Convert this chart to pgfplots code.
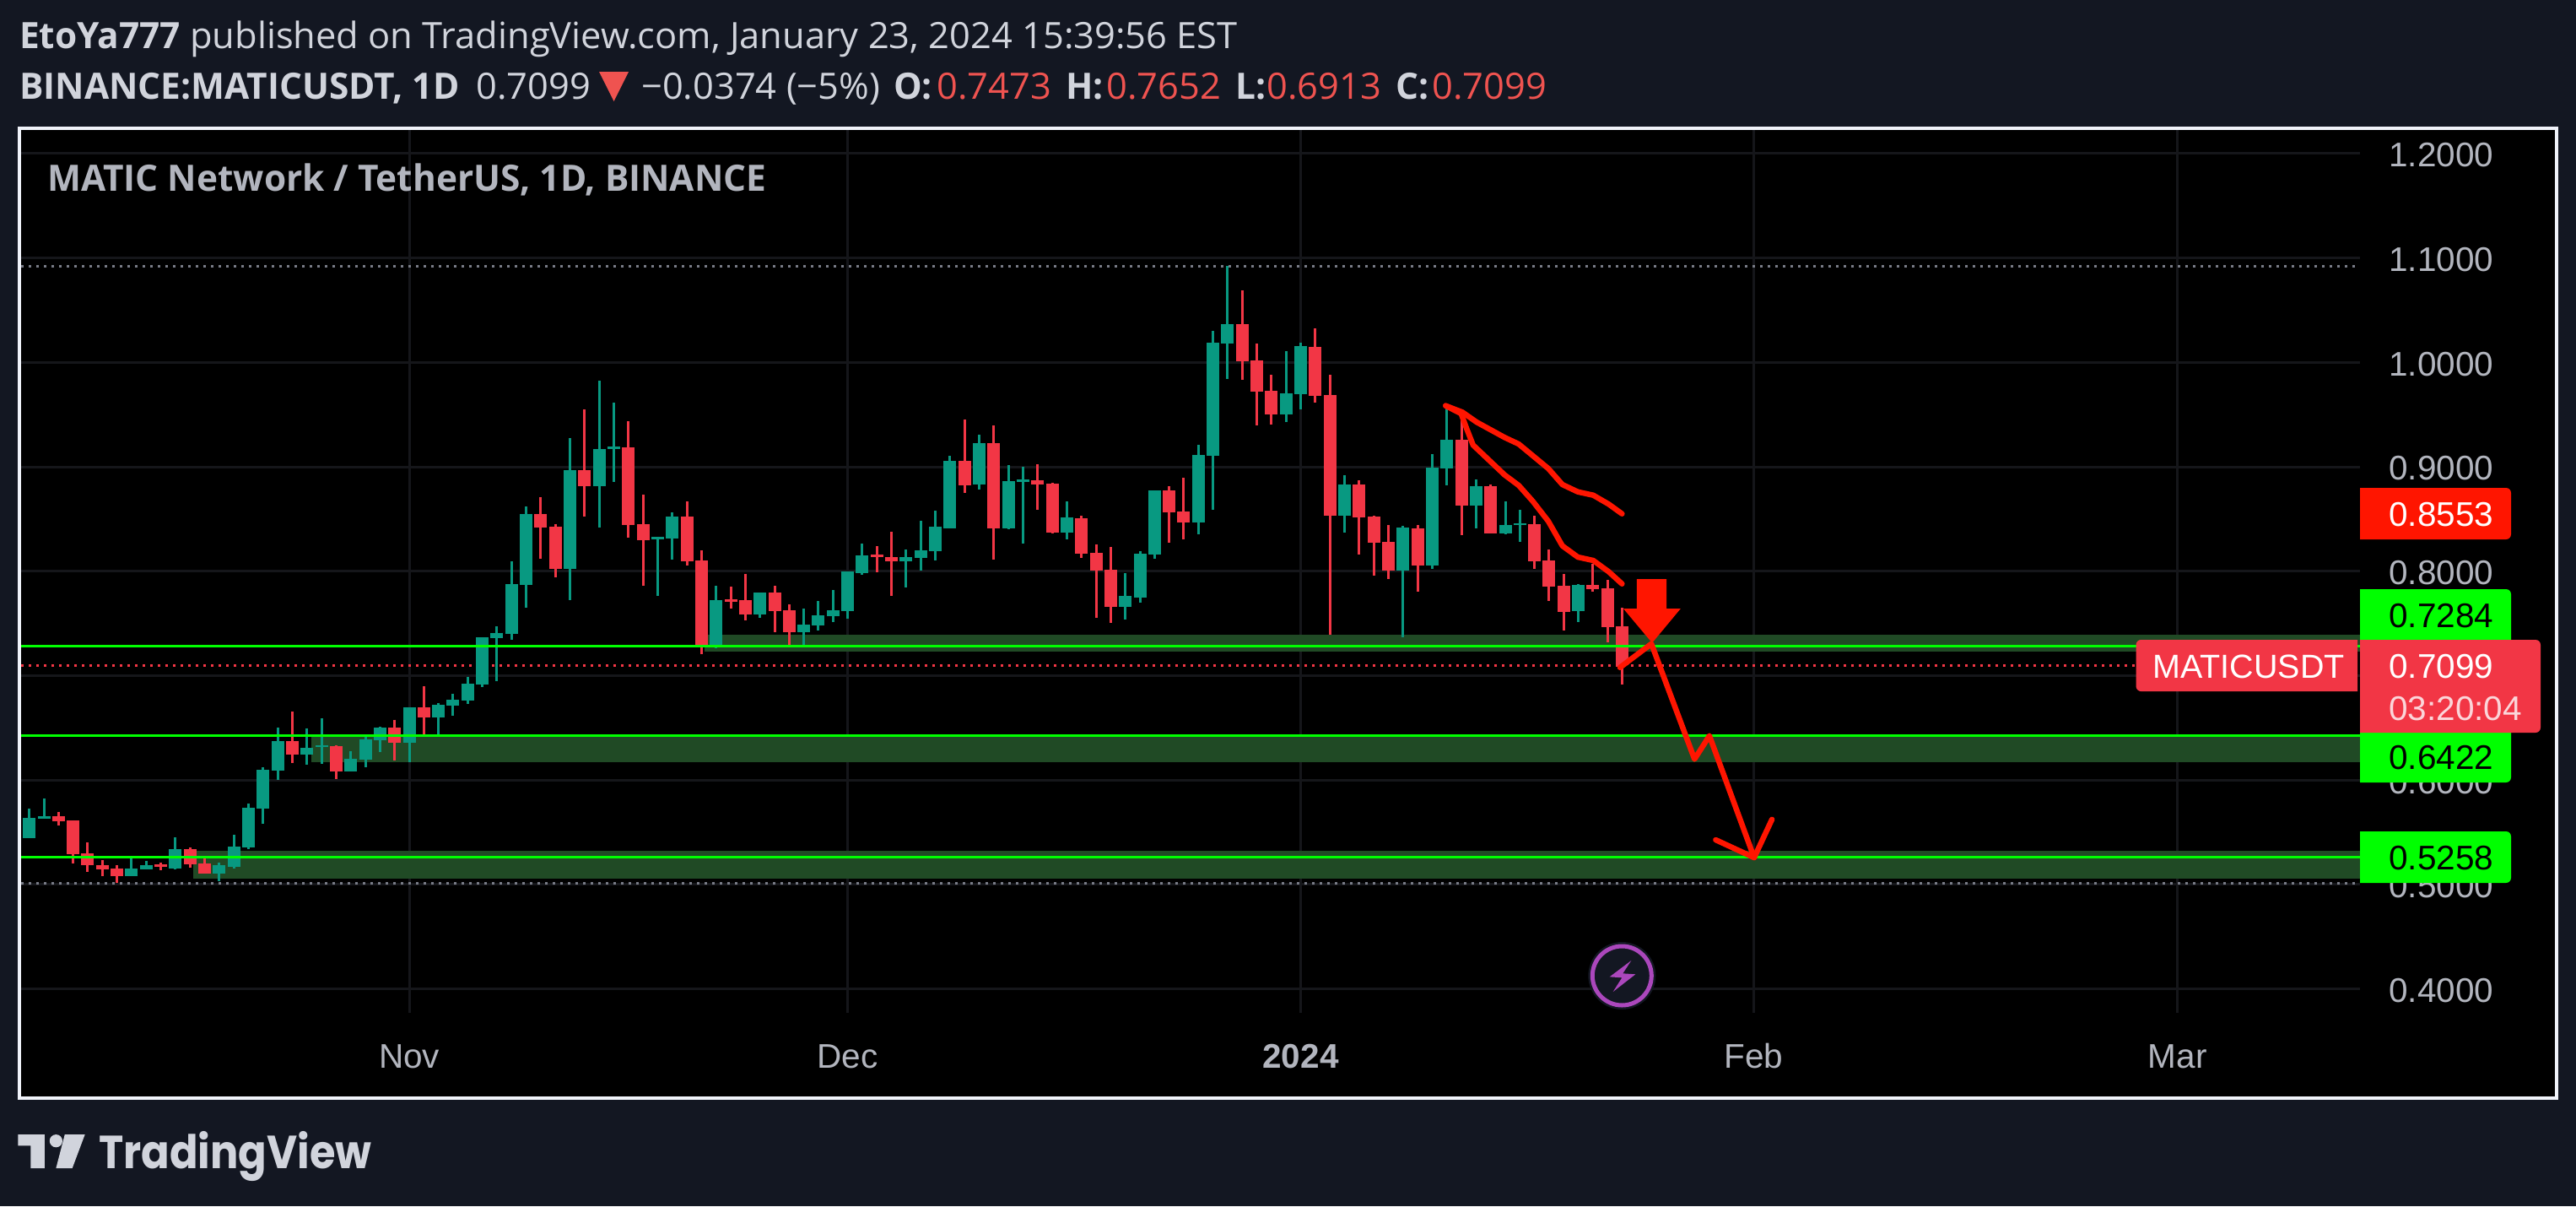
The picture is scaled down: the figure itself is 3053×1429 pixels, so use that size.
\documentclass[border=0pt]{standalone}
\usepackage{fontspec}
\setmainfont{Open Sans}[FakeStretch=1.01,BoldFeatures={FakeStretch=0.985}]
\newfontfamily\pricefont{Liberation Sans}
\newfontfamily\logofont{Poppins}[FakeStretch=0.9]
\usepackage{pgfplots}
\usepackage{pgfplotstable}
\pgfplotsset{compat=1.18}

\definecolor{bg}{HTML}{131722}
\definecolor{frame}{HTML}{F0F3FA}
\definecolor{hdr}{HTML}{D1D4DC}
\definecolor{lbl}{HTML}{B2B5BE}
\definecolor{gridc}{HTML}{15161A}
\definecolor{up}{HTML}{089981}
\definecolor{down}{HTML}{F23645}
\definecolor{hdrred}{HTML}{EF5350}
\definecolor{level}{HTML}{00FF00}
\definecolor{zone}{HTML}{204A25}
\definecolor{ink}{HTML}{FF1500}
\definecolor{dots}{HTML}{787B86}
\definecolor{bolt}{HTML}{AB47BC}
\definecolor{timer}{HTML}{FBD5D9}

% day 0 = 1 Nov 2023
\pgfplotstableread{
d o h l c
-26 .5444 .5729 .5444 .5641
-25 .5632 .5825 .5632 .5654
-19 .5080 .5251 .5076 .5155
-18 .5146 .5229 .5146 .5181
-16 .5155 .5453 .5146 .5339
-13 .5107 .5212 .5032 .5181
-12 .5172 .5479 .5155 .5365
-11 .5356 .5777 .5339 .5737
-10 .5729 .6123 .5584 .6101
-9 .6092 .6504 .6005 .6377
-7 .6246 .6495 .6149 .6311
-6 .6316 .6592 .6158 .6333
-4 .6083 .6276 .6083 .6206
-3 .6197 .6430 .6123 .6390
-2 .6381 .6513 .6272 .6504
0 .6359 .6697 .6171 .6697
2 .6600 .6740 .6430 .6723
3 .6714 .6828 .6618 .6771
4 .6762 .6990 .6732 .6924
5 .6916 .7367 .6894 .7367
6 .7362 .7472 .6946 .7411
7 .7402 .8094 .7345 .7879
8 .7871 .8620 .7652 .8549
11 .8024 .9277 .7726 .8970
13 .8817 .9824 .8418 .9171
14 .9171 .9614 .8856 .9193
17 .8304 .8330 .7765 .8330
18 .8313 .8563 .8111 .8523
21 .7270 .7861 .7264 .7723
24 .7587 .7795 .7553 .7795
27 .7417 .7642 .7270 .7489
28 .7480 .7714 .7431 .7579
29 .7570 .7821 .7512 .7628
30 .7619 .7997 .7547 .7997
31 .7982 .8265 .7965 .8153
34 .8095 .8207 .7844 .8135
35 .8127 .8482 .8006 .8199
36 .8193 .8580 .8104 .8427
37 .8409 .9105 .8409 .9056
39 .8831 .9307 .8782 .9226
41 .8409 .9015 .8401 .8862
42 .8854 .9001 .8265 .8880
45 .8369 .8669 .8306 .8516
49 .7659 .7982 .7538 .7763
50 .7749 .8193 .7700 .8167
51 .8158 .8773 .8118 .8773
54 .8467 .9209 .8355 .9113
55 .9105 1.0299 .8588 1.0187
56 1.0178 1.0922 .9840 1.0365
60 .9500 1.0106 .9428 .9702
61 .9693 1.0187 .9549 1.0155
64 .8531 .8920 .8369 .8831
68 .8006 .8435 .7371 .8418
70 .8055 .9122 .8023 .8992
71 .8984 .9575 .8822 .9258
73 .8629 .8880 .8409 .8813
75 .8360 .8669 .8355 .8441
76 .8441 .8588 .8280 .8456
80 .7619 .7879 .7512 .7870
}\upbars

\pgfplotstableread{
d o h l c
-24 .5650 .5698 .5567 .5606
-23 .5615 .5615 .5203 .5291
-22 .5299 .5405 .5124 .5181
-21 .5186 .5234 .5076 .5146
-20 .5155 .5186 .5019 .5080
-17 .5194 .5212 .5137 .5172
-15 .5339 .5356 .5164 .5194
-14 .5203 .5256 .5107 .5107
-8 .6377 .6657 .6167 .6246
-5 .6324 .6333 .6013 .6083
-1 .6504 .6578 .6189 .6359
1 .6697 .6898 .6438 .6600
9 .8549 .8711 .8120 .8418
10 .8427 .8453 .7941 .8024
12 .8970 .9548 .8523 .8817
15 .9185 .9439 .8322 .8444
16 .8453 .8733 .7862 .8300
19 .8522 .8669 .8055 .8095
20 .8104 .8199 .7206 .7270
22 .7731 .7853 .7642 .7708
23 .7723 .7974 .7530 .7587
25 .7795 .7861 .7417 .7619
26 .7628 .7682 .7290 .7417
32 .8158 .8239 .7991 .8138
33 .8135 .8378 .7763 .8095
38 .9056 .9451 .8750 .8822
40 .9226 .9396 .8112 .8409
43 .8871 .9024 .8588 .8831
44 .8839 .8845 .8360 .8369
46 .8508 .8531 .8127 .8167
47 .8176 .8257 .7553 .8006
48 .8014 .8233 .7506 .7659
52 .8773 .8813 .8274 .8562
53 .8571 .8894 .8306 .8467
57 1.0365 1.0689 .9832 1.0011
58 1.0016 1.0178 .9396 .9719
59 .9728 .9881 .9405 .9500
62 1.0146 1.0325 .9612 .9679
63 .9687 .9881 .7388 .8531
65 .8831 .8871 .8158 .8516
66 .8522 .8531 .7956 .8274
67 .8280 .8441 .7925 .8006
69 .8409 .8441 .7804 .8055
72 .9258 .9474 .8346 .8629
74 .8813 .8831 .8360 .8360
77 .8450 .8531 .8023 .8095
78 .8104 .8207 .7714 .7853
79 .7861 .7974 .7431 .7610
81 .7870 .8072 .7804 .7830
82 .7835 .7916 .7319 .7466
83 .7473 .7652 .6913 .7099
}\downbars

\newcommand{\hdrsize}{\fontsize{43}{50}\selectfont}
\newcommand{\pricesize}{\pricefont\fontsize{40.5}{48}\selectfont}
% text with its left end and baseline at a given pixel
\newcommand{\txt}[4]{\node[anchor=base west,inner sep=0pt,text=#3] at (#1,#2) {#4};}
% price tag, rounded on its right side
\newcommand{\tag}[4]{\fill[#4,rounded corners=6pt] (2797,#1) -- (#3,#1) -- (#3,#2) -- (2797,#2);}

\begin{document}
\begin{tikzpicture}[x=1pt,y=-1pt]
\path[use as bounding box,fill=bg] (0,0) rectangle (3053,1429);
\fill[black] (23,152) rectangle (3030,1301);

\begin{axis}[
  at={(25pt,-1200pt)}, anchor=south west,
  scale only axis, width=2772pt, height=1046pt,
  xmin=-26.56, xmax=133.49, ymin=0.377, ymax=1.2226,
  axis line style={draw=none},
  major tick length=0pt,
  grid=major,
  major grid style={line width=3pt,color=gridc},
  xtick={0,30,61,92,121},
  xticklabels={Nov,Dec,\textbf{2024},Feb,Mar},
  ytick={0.4,0.5,0.6,0.7,0.8,0.9,1.0,1.1,1.2},
  yticklabel pos=right,
  /pgf/number format/assume math mode=true,
  /pgf/number format/fixed, /pgf/number format/fixed zerofill, /pgf/number format/precision=4,
  xticklabel style={anchor=base,inner sep=0pt,yshift=-65pt,text=lbl,font=\pricesize},
  yticklabel style={anchor=west,inner sep=0pt,xshift=34pt,yshift=-2pt,text=lbl,font=\pricesize},
]
% drawn zones
\addplot[fill=zone,draw=none] coordinates {(20.2,.7391)(134,.7391)(134,.7232)(20.2,.7232)} --cycle;
\addplot[fill=zone,draw=none] coordinates {(-6.7,.6432)(134,.6432)(134,.6173)(-6.7,.6173)} --cycle;
\addplot[fill=zone,draw=none] coordinates {(-14.8,.5322)(134,.5322)(134,.5057)(-14.8,.5057)} --cycle;

% high, low and last price
\addplot[dots,line width=3pt,dash pattern=on 3pt off 6pt] coordinates {(-26.56,1.0922)(133.2,1.0922)};
\addplot[dots,line width=3pt,dash pattern=on 3pt off 6pt] coordinates {(-26.56,.5009)(133.2,.5009)};
\addplot[down,line width=3pt,dash pattern=on 3pt off 6pt] coordinates {(-26.56,.7099)(118.2,.7099)};

% wicks
\addplot[draw=none,mark=none,forget plot,error bars/.cd,y dir=minus,y explicit,error mark=none,error bar style={line width=3pt,up}]
  table[x=d,y=h,y error minus expr=\thisrow{h}-\thisrow{l}] {\upbars};
\addplot[draw=none,mark=none,forget plot,error bars/.cd,y dir=minus,y explicit,error mark=none,error bar style={line width=3pt,down}]
  table[x=d,y=h,y error minus expr=\thisrow{h}-\thisrow{l}] {\downbars};
% bodies
\addplot[draw=none,mark=none,forget plot,error bars/.cd,y dir=minus,y explicit,error mark=none,error bar style={line width=15pt,up}]
  table[x=d,y=c,y error minus expr=\thisrow{c}-\thisrow{o}] {\upbars};
\addplot[draw=none,mark=none,forget plot,error bars/.cd,y dir=minus,y explicit,error mark=none,error bar style={line width=15pt,down}]
  table[x=d,y=o,y error minus expr=\thisrow{o}-\thisrow{c}] {\downbars};

% horizontal levels
\addplot[level,line width=3pt] coordinates {(-26.56,.7284)(134,.7284)};
\addplot[level,line width=3pt] coordinates {(-26.56,.6422)(134,.6422)};
\addplot[level,line width=3pt] coordinates {(-26.56,.5258)(134,.5258)};

% hand drawn lines
\addplot[ink,line width=6.5pt,line cap=round,line join=round] coordinates {
  (70.92,.9585)(72.07,.9523)(73.04,.9428)(74.96,.9281)(75.92,.9218)(77.94,.8984)
  (78.91,.8830)(79.97,.8760)(81.02,.8728)(82.08,.8642)(82.99,.8550)};
\addplot[ink,line width=6.5pt,line cap=round,line join=round] coordinates {
  (70.92,.9585)(71.98,.9509)(72.37,.9361)(72.8,.9208)(74.96,.8922)(75.92,.8822)
  (76.89,.8669)(77.94,.8480)(78.91,.8243)(79.97,.8135)(81.02,.8103)(82.08,.7995)(82.99,.7879)};
\addplot[ink,line width=6.5pt,line cap=round,line join=round] coordinates {
  (82.85,.7078)(85.0,.7305)(87.95,.6200)(88.97,.6424)(92.03,.5257)};
\addplot[ink,line width=6.5pt,line cap=round,line join=round] coordinates {
  (89.4,.5427)(92.03,.5257)(93.25,.5623)};
\addplot[fill=ink,draw=none] coordinates {
  (84.0,.7925)(86.03,.7925)(86.03,.7642)(87.0,.7642)(85.05,.7313)(83.08,.7642)(84.0,.7642)} --cycle;
\end{axis}

% price labels
\tag{578}{639}{2976}{ink}
\tag{698}{764}{2976}{level}
\tag{860}{927}{2976}{level}
\tag{985}{1046}{2976}{level}
\tag{758}{868}{3011}{down}
\fill[down,rounded corners=6pt] (2794,758) -- (2531.5,758) -- (2531.5,819) -- (2794,819);

\txt{2831}{623}{white}{\pricesize 0.8553}
\txt{2831}{743}{black}{\pricesize 0.7284}
\txt{2831}{803}{white}{\pricesize 0.7099}
\txt{2831}{853}{timer}{\pricesize 03:20:04}
\txt{2831}{911}{black}{\pricesize 0.6422}
\txt{2831}{1030}{black}{\pricesize 0.5258}
\txt{2551}{803}{white}{\pricefont\fontsize{39.5}{48}\selectfont MATICUSDT}

% replay icon
\fill[bg] (1922.3,1156) circle (40);
\draw[bolt,line width=5pt] (1922.3,1156) circle (35);
\fill[bolt] (1933.3,1138) -- (1907.7,1157.3) -- (1922.3,1158.3) -- (1911.7,1175) -- (1938.3,1154.3) -- (1923.3,1153.3) -- cycle;

% frame
\draw[frame,line width=4pt] (23,152) rectangle (3030,1301);

% header
\txt{23}{58}{hdr}{\hdrsize\textbf{EtoYa777} published on TradingView.com, January 23, 2024 15:39:56 EST}
\txt{23}{117}{hdr}{\hdrsize\textbf{BINANCE:MATICUSDT, 1D}}
\txt{564}{117}{hdr}{\hdrsize 0.7099}
\fill[hdrred] (710,85) -- (745,85) -- (727.5,120) -- cycle;
\txt{760}{117}{hdr}{\hdrsize −0.0374 (−5\%)}
\txt{1059}{117}{hdr}{\hdrsize\textbf{O:}}
\txt{1110}{117}{hdrred}{\hdrsize 0.7473}
\txt{1263}{117}{hdr}{\hdrsize\textbf{H:}}
\txt{1311}{117}{hdrred}{\hdrsize 0.7652}
\txt{1464}{117}{hdr}{\hdrsize\textbf{L:}}
\txt{1501}{117}{hdrred}{\hdrsize 0.6913}
\txt{1654}{117}{hdr}{\hdrsize\textbf{C:}}
\txt{1697}{117}{hdrred}{\hdrsize 0.7099}

% legend in the pane
\txt{56}{226}{lbl}{\hdrsize\textbf{MATIC Network / TetherUS, 1D, BINANCE}}

% footer logo
\fill[hdr] (21.4,1344) -- (52.9,1344) -- (52.9,1384) -- (36.4,1384) -- (36.4,1357.3) -- (21.4,1357.3) -- cycle;
\fill[hdr] (66.4,1351.7) circle (7.6);
\fill[hdr] (76.8,1344) -- (100.7,1344) -- (85.7,1384) -- (66.4,1384) -- cycle;
\txt{117}{1384}{hdr}{\logofont\fontsize{55}{60}\selectfont\bfseries TradingView}
\end{tikzpicture}
\end{document}
